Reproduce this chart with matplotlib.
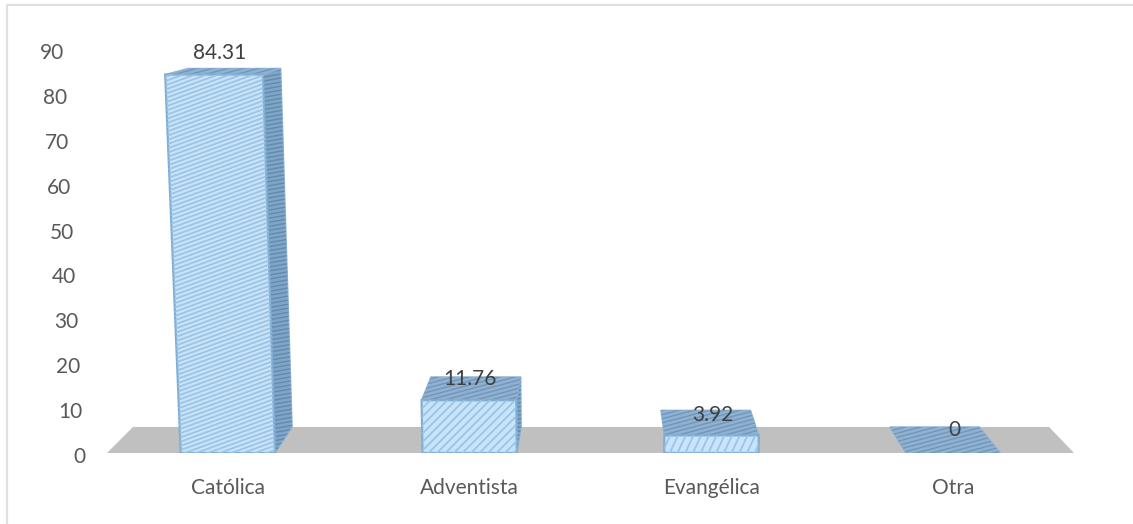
#!/usr/bin/python
# 3D looking column chart, religion percentages
import matplotlib
matplotlib.use('Agg')
import matplotlib.pyplot as plt
from matplotlib.patches import Polygon
from matplotlib.lines import Line2D
from matplotlib.collections import LineCollection
from matplotlib.transforms import IdentityTransform
import numpy as np

categories = ['Católica', 'Adventista', 'Evangélica', 'Otra']
values = [84.31, 11.76, 3.92, 0]
value_labels = ['84.31', '11.76', '3.92', '0']
y_ticks = [0, 10, 20, 30, 40, 50, 60, 70, 80, 90]

# where the value labels sit
label_x = [-0.033, 0.0, 0.004, 0.005]
label_y = [90.5, 16.8, 8.7, 5.3]
# hatch angle and spacing of the front face per bar, it differs in the picture
hatch_angle = [20, 45, 65, 20]
hatch_gap = [4.0, 6.0, 7.0, 4.0]

W, H = 1133, 524
TEXT = '#595959'
FS = 15
plt.rcParams['font.family'] = ['Lato', 'DejaVu Sans']

fig = plt.figure(figsize=(W/100, H/100), dpi=100)
# frame of the chart, cut off by the image at right and bottom
fig.add_artist(Line2D([7/W, 7/W, 1], [0, 1 - 5/H, 1 - 5/H], transform=fig.transFigure,
                      color='#e0e0e0', lw=1.6, zorder=-1))

ax = fig.add_axes([107/W, 1 - 453/H, 967/W, 398/H])
ax.patch.set_alpha(0)
ax.set_xlim(-0.5, 3.5)
ax.set_ylim(0, 90)
for s in ax.spines.values():
    s.set_visible(False)

# perspective
XV, YV = 1.54, 111.8
DEPTH = 1/19.
LEAN = 4.4e-4
GROW = 1.015
BAR_W = 0.39


def proj(x, v, back=False):
    px = x + (x - XV)*LEAN*v
    py = v*GROW
    if back:
        px = px + (XV - px)*DEPTH
        py = py + (YV - py)*DEPTH
    return (px, py)


def hatch(poly, angle, gap, color, lw, z):
    # diagonal lines in pixels, clipped to the face
    pts = ax.transData.transform(poly.get_xy())
    c = pts.mean(axis=0)
    r = np.hypot(*(pts - c).T).max()
    a = np.radians(angle)
    d = np.array([np.cos(a), np.sin(a)])
    n = np.array([-d[1], d[0]])
    segs = []
    for off in np.arange(-r, r, gap):
        segs.append([c + n*off - d*r, c + n*off + d*r])
    lc = LineCollection(segs, colors=color, linewidths=lw, transform=IdentityTransform(), zorder=z)
    ax.add_collection(lc, autolim=False)
    lc.set_clip_path(poly)


# floor
floor = Polygon([proj(-0.5, 0), proj(3.5, 0), proj(3.5, 0, True), proj(-0.5, 0, True)],
                fc='#c0c0c0', ec='none', zorder=1)
ax.add_patch(floor)

for i, v in enumerate(values):
    l, r = i - BAR_W/2, i + BAR_W/2
    top = Polygon([proj(l, v), proj(r, v), proj(r, v, True), proj(l, v, True)],
                  fc='#8fb2d3', ec='#8db2d3', lw=1, zorder=3)
    ax.add_patch(top)
    hatch(top, 15, 4.0, '#7396b8', 1.0, 3.1)
    # side that can be seen depends on which side of the vanishing point
    if i < 2 and v > 0:
        side = Polygon([proj(r, 0), proj(r, v), proj(r, v, True), proj(r, 0, True)],
                       fc='#7ea6c8', ec='#8db2d3', lw=1, zorder=2)
        ax.add_patch(side)
        hatch(side, 10, 4.0, '#648aab', 1.0, 2.1)
    if v > 0:
        front = Polygon([proj(l, 0), proj(r, 0), proj(r, v), proj(l, v)],
                        fc='#c6e4fa', ec='#7fadd5', lw=1.6, zorder=4)
        ax.add_patch(front)
        hatch(front, hatch_angle[i], hatch_gap[i], '#9fc3e2', 1.3, 4.1)
    ax.text(i + label_x[i], label_y[i], value_labels[i], ha='center', va='center',
            fontsize=FS, color='#404040', zorder=6)

# the y labels lean with the walls of the chart
ax.set_yticks([])
for t in y_ticks:
    px, py = proj(-0.591, t)
    ax.text(px, py - 0.9, str(t), ha='right', va='center', fontsize=FS, color=TEXT)

ax.set_xticks(range(len(categories)))
ax.set_xticklabels(categories)
ax.tick_params(axis='x', length=0, pad=18, labelsize=FS, labelcolor=TEXT)

fig.savefig('out.png', dpi=100, facecolor='white')
